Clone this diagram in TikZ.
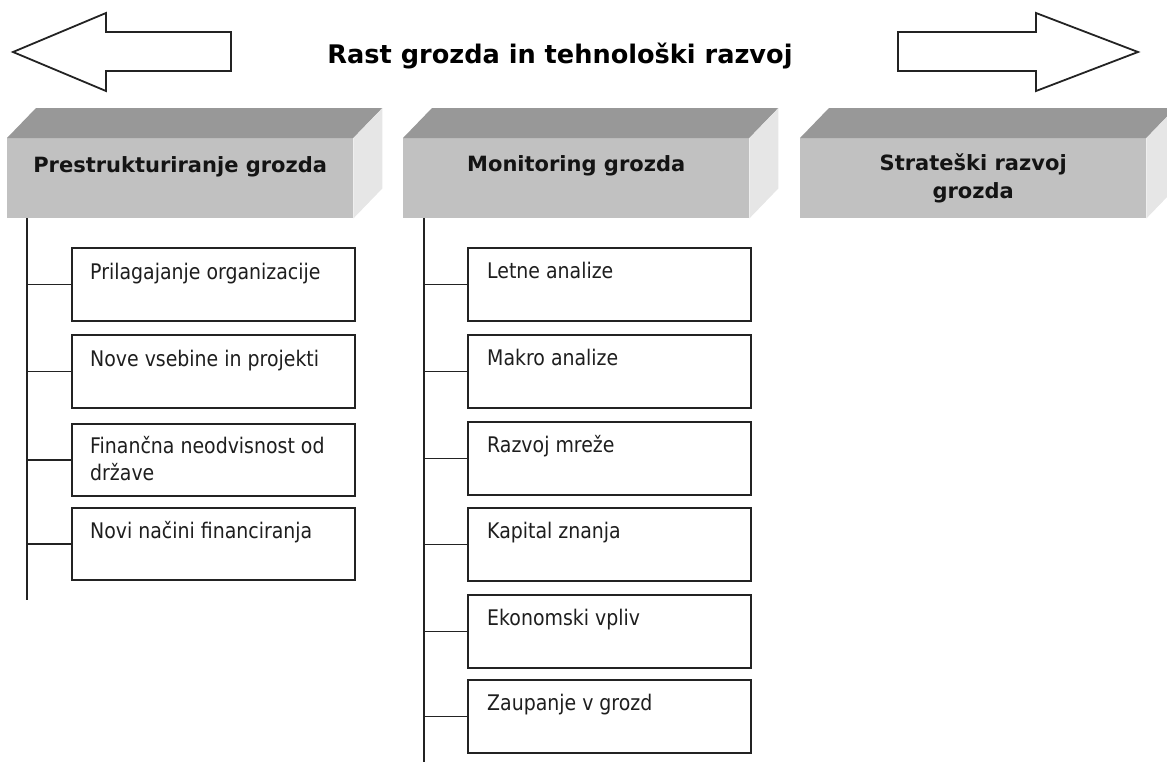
\documentclass[tikz,border=0pt]{standalone}
\usepackage{fontspec}
\setmainfont{DejaVu Sans}
\newfontfamily\itemfont{DejaVu Sans}[FakeStretch=0.88]
\usetikzlibrary{calc}

\definecolor{facefront}{RGB}{193,193,193}
\definecolor{facetop}{RGB}{152,152,152}
\definecolor{faceside}{RGB}{230,230,230}
\definecolor{lineclr}{RGB}{35,35,35}
\definecolor{textclr}{RGB}{30,30,30}

\tikzset{
  front/.style={fill=facefront, minimum width=346pt, minimum height=80pt, inner sep=0pt, anchor=north west},
  headtext/.style={anchor=base, inner sep=0pt, align=center, text=black!92,
    font=\bfseries\fontsize{21}{28}\selectfont},
  titletext/.style={anchor=base, inner sep=0pt, text=black,
    font=\bfseries\fontsize{25.6}{30}\selectfont},
  itembox/.style={draw=lineclr, line width=1.8pt, fill=white, minimum width=283pt,
    minimum height=73pt, inner sep=0pt, anchor=north west},
  itemtext/.style={anchor=base west, inner sep=0pt, align=left, text=textclr,
    font=\itemfont\fontsize{21.5}{27}\selectfont},
  conn/.style={draw=lineclr, line width=1.8pt},
  bigarrow/.style={draw=lineclr, line width=1.8pt, fill=white, line join=miter}
}

% raised 3D header block: front face plus top and right faces
\newcommand{\slab}[2]{%
  \node[front] (#1) at (#2,138) {};
  \fill[facetop] (#1.north west) -- ++(29,-30) -- ($(#1.north east)+(29,-30)$)
    -- (#1.north east) -- cycle;
  \fill[faceside] (#1.north east) -- ++(29,-30) -- ($(#1.south east)+(29,-30)$)
    -- (#1.south east) -- cycle;
}

\begin{document}
\begin{tikzpicture}[x=1pt, y=-1pt]
\useasboundingbox (0,0) rectangle (1167,764);

% title with the two direction arrows
\draw[bigarrow] (13,52) -- (106,13) -- (106,32) -- (231,32) -- (231,71)
  -- (106,71) -- (106,91) -- cycle;
\draw[bigarrow] (898,32) -- (1036,32) -- (1036,13) -- (1138,52) -- (1036,91)
  -- (1036,71) -- (898,71) -- cycle;
\node[titletext] (title) at (560,63) {Rast grozda in tehnološki razvoj};

% header blocks (base anchor of a two-line label sits on its last line)
\slab{h1}{7}
\slab{h2}{403}
\slab{h3}{800}
\node[headtext] (h1t) at ($(h1.north)+(0,34)$) {Prestrukturiranje grozda};
\node[headtext] (h2t) at ($(h2.north)+(0,33)$) {Monitoring grozda};
\node[headtext] (h3t) at ($(h3.north)+(0,60)$) {Strateški razvoj\\grozda};

% left column
\coordinate (ltop) at (27,218);
\coordinate (lbot) at (27,600);
\draw[conn] (ltop) -- (lbot);
\node[itembox] (l1) at (71,247) {};
\node[itembox] (l2) at (71,334) {};
\node[itembox, minimum height=72pt] (l3) at (71,423) {};
\node[itembox, minimum height=72pt] (l4) at (71,507) {};
\node[itemtext] (l1t) at ($(l1.north west)+(19,32)$) {Prilagajanje organizacije};
\node[itemtext] (l2t) at ($(l2.north west)+(19,32)$) {Nove vsebine in projekti};
\node[itemtext] (l3t) at ($(l3.north west)+(19,57)$) {Finančna neodvisnost od\\države};
\node[itemtext] (l4t) at ($(l4.north west)+(19,31)$) {Novi načini financiranja};
\foreach \b in {l1,l2,l3,l4} \draw[conn] (\b.west) -- (\b.west -| ltop);

% middle column
\coordinate (mtop) at (424,218);
\coordinate (mbot) at (424,762);
\draw[conn] (mtop) -- (mbot);
\node[itembox] (m1) at (467,247) {};
\node[itembox] (m2) at (467,334) {};
\node[itembox] (m3) at (467,421) {};
\node[itembox] (m4) at (467,507) {};
\node[itembox] (m5) at (467,594) {};
\node[itembox] (m6) at (467,679) {};
\node[itemtext] (m1t) at ($(m1.north west)+(20,31)$) {Letne analize};
\node[itemtext] (m2t) at ($(m2.north west)+(20,31)$) {Makro analize};
\node[itemtext] (m3t) at ($(m3.north west)+(20,31)$) {Razvoj mreže};
\node[itemtext] (m4t) at ($(m4.north west)+(20,31)$) {Kapital znanja};
\node[itemtext] (m5t) at ($(m5.north west)+(20,31)$) {Ekonomski vpliv};
\node[itemtext] (m6t) at ($(m6.north west)+(20,31)$) {Zaupanje v grozd};
\foreach \b in {m1,m2,m3,m4,m5,m6} \draw[conn] (\b.west) -- (\b.west -| mtop);
\end{tikzpicture}
\end{document}
